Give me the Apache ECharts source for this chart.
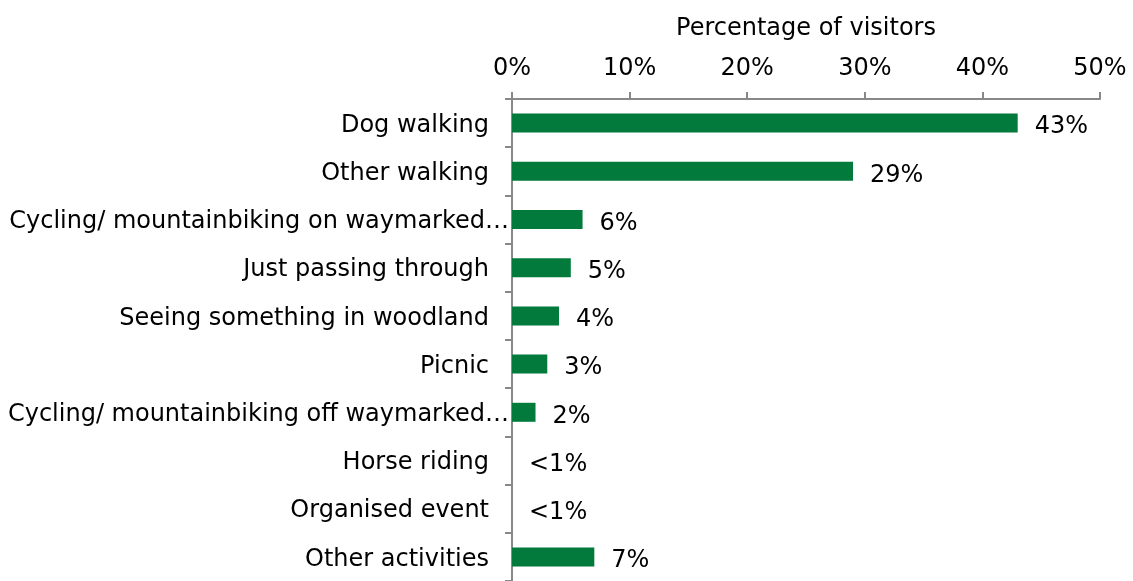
<html>
<head>
    <meta charset="utf-8">
    <script src="https://cdn.jsdelivr.net/npm/echarts@6/dist/echarts.min.js"></script>
</head>
<body style="height: 100%; margin: 0">
    <div id="container" style="width: 1133px; height: 581px"></div>
    <script>
        var categories = ['Dog walking', 'Other walking', 'Cycling/ mountainbiking on waymarked…',
            'Just passing through', 'Seeing something in woodland', 'Picnic',
            'Cycling/ mountainbiking off waymarked…', 'Horse riding', 'Organised event', 'Other activities'];
        var values = [43, 29, 6, 5, 4, 3, 2, 0, 0, 7];
        var valueLabels = ['43%', '29%', '6%', '5%', '4%', '3%', '2%', '<1%', '<1%', '7%'];
        var xTicks = [0, 10, 20, 30, 40, 50];

        var myChart = echarts.init(document.getElementById('container'));
        var font = 'DejaVu Sans';
        var option = {
            animation: false,
            grid: { left: 512, right: 33, top: 99, height: 488 },
            xAxis: {
                type: 'value',
                position: 'top',
                min: xTicks[0],
                max: xTicks[xTicks.length - 1],
                interval: 10,
                name: 'Percentage of visitors',
                nameLocation: 'middle',
                nameGap: 58,
                nameTextStyle: { fontFamily: font, fontSize: 24, color: '#000' },
                axisLine: { show: true, lineStyle: { color: '#888', width: 2 } },
                axisTick: { show: true, length: 7, lineStyle: { color: '#888', width: 2 } },
                axisLabel: { fontFamily: font, fontSize: 24, color: '#000', margin: 18,
                    formatter: function (v) { return v + '%'; } },
                splitLine: { show: false }
            },
            yAxis: {
                type: 'category',
                inverse: true,
                data: categories,
                axisLine: { show: true, lineStyle: { color: '#888', width: 2 } },
                axisTick: { show: true, length: 7, lineStyle: { color: '#888', width: 2 } },
                axisLabel: {
                    fontFamily: font, fontSize: 24, color: '#000', margin: 3,
                    padding: [5, 0, 0, 0],
                    formatter: function (v) {
                        // long labels run up to the axis, like in the original
                        return v.indexOf('…') >= 0 ? v : '{s|' + v + '}';
                    },
                    rich: { s: { fontFamily: font, fontSize: 24, color: '#000', padding: [0, 20, 0, 0] } }
                }
            },
            series: [{
                type: 'bar',
                data: values,
                barWidth: 19,
                itemStyle: { color: '#027a3b' },
                label: {
                    show: true,
                    position: 'right',
                    distance: 17,
                    offset: [0, 4],
                    fontFamily: font,
                    fontSize: 24,
                    color: '#000',
                    formatter: function (p) { return valueLabels[p.dataIndex]; }
                }
            }]
        };
        myChart.setOption(option);
    </script>
</body>
</html>
